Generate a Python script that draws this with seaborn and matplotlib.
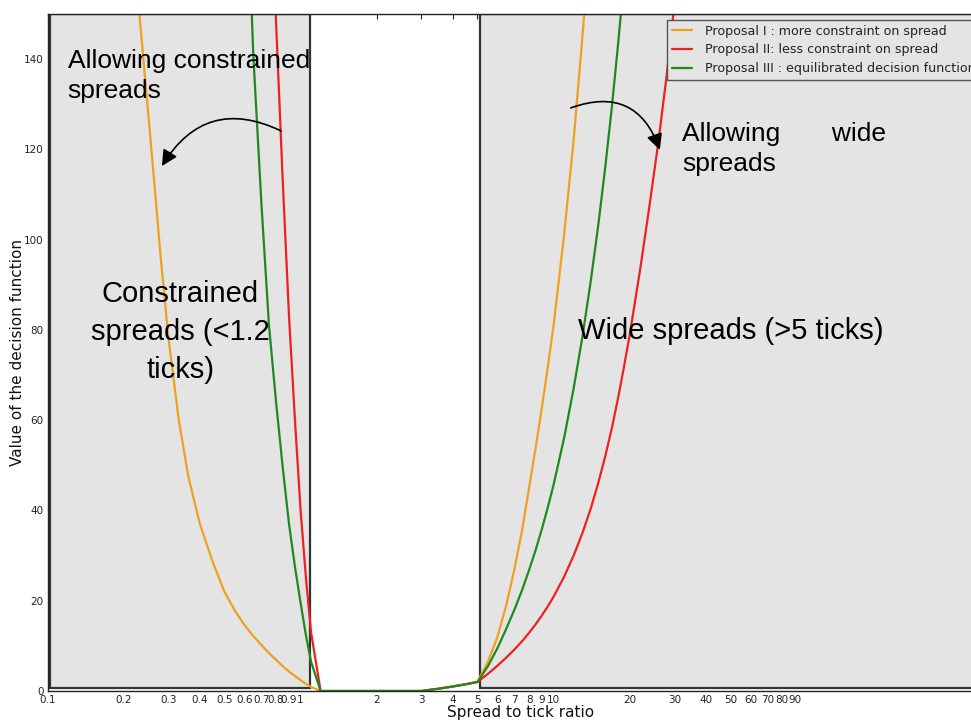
import matplotlib
matplotlib.use("Agg")
import matplotlib.pyplot as plt
from matplotlib.patches import Rectangle
from matplotlib.ticker import FixedLocator, FixedFormatter, NullFormatter, LogLocator
import seaborn as sns
import pandas as pd

# Spread-to-tick ratio grid shared by the three proposals
spread = [0.2, 0.22, 0.24, 0.26, 0.28, 0.3, 0.33, 0.36, 0.4, 0.45, 0.5, 0.55,
          0.6, 0.65, 0.7, 0.75, 0.8, 0.85, 0.9, 0.95, 1.0, 1.05, 1.1, 1.2,
          1.5, 2.0, 2.5, 3.0, 3.5, 4.0, 4.5, 5.0,
          5.5, 6, 6.5, 7, 7.5, 8, 8.5, 9, 9.5, 10,
          11, 12, 13, 14, 15, 16, 17, 18, 19, 20,
          22, 24, 26, 28, 30, 33, 36]

# Decision-function values for each proposal
proposal_1 = [188, 163, 139, 117, 96, 78.5, 60, 47.5, 37, 28.5, 22, 17.8,
              14.6, 12.2, 10.2, 8.4, 6.9, 5.5, 4.3, 3.3, 2.4, 1.6, 0.9, 0,
              0, 0, 0, 0, 0.5, 1.0, 1.5, 2.0,
              6.5, 12, 19, 27, 35.5, 45, 54, 63, 72, 81,
              101, 122, 145, 168, 193, 220, 248, 278, 310, 343,
              415, 495, 580, 675, 775, 940, 1120]
proposal_2 = [3100, 2650, 2250, 1950, 1700, 1500, 1250, 1050, 860, 680, 540, 440,
              360, 290, 232, 186, 148, 113, 83, 60, 40, 25, 13, 0,
              0, 0, 0, 0, 0.5, 1.0, 1.5, 2.0,
              3.8, 5.6, 7.4, 9.2, 11, 12.9, 14.8, 16.8, 18.8, 20.9,
              25.3, 30, 35, 40.3, 46, 52, 58.3, 65, 72, 79,
              93.5, 108, 122, 136.5, 152, 175, 199]
proposal_3 = [2400, 2000, 1700, 1450, 1250, 1100, 900, 760, 600, 450, 340, 262,
              195, 141, 108, 81, 64, 49.5, 37, 27.5, 19.5, 12.3, 6.5, 0,
              0, 0, 0, 0, 0.5, 1.0, 1.5, 2.0,
              5.5, 9.5, 13.8, 18, 22.3, 26.8, 31.3, 36, 40.8, 45.7,
              56, 67, 78.5, 90.5, 103, 116, 129.5, 143.5, 158, 173,
              205, 240, 277, 316, 357, 422, 490]

series_labels = ["Proposal I : more constraint on spread",
                 "Proposal II: less constraint on spread",
                 "Proposal III : equilibrated decision function"]
series_colors = ["#eda21f", "#ee2020", "#1e8a1e"]

# Regions of constrained (< 1.2 ticks) and wide (> 5 ticks) spreads
constrained_region = (0.102, 1.085)
wide_region = (5.1, 2000)
region_y = (0.6, 150)

x_major = [0.1, 0.2, 0.3, 0.4, 0.5, 0.6, 0.7, 0.8, 0.9,
           1, 2, 3, 4, 5, 6, 7, 8, 9,
           10, 20, 30, 40, 50, 60, 70, 80, 90]
x_major_labels = ["%g" % v for v in x_major]
y_ticks = [0, 20, 40, 60, 80, 100, 120, 140]

sns.set_theme(style="white")
plt.rcParams["font.family"] = ["DejaVu Sans"]

df = pd.DataFrame({
    "spread": spread * 3,
    "value": proposal_1 + proposal_2 + proposal_3,
    "proposal": [series_labels[0]] * len(spread) + [series_labels[1]] * len(spread)
                + [series_labels[2]] * len(spread),
})

fig = plt.figure(figsize=(9.71, 7.2), dpi=100)
ax = fig.add_axes([47.6 / 971, 29 / 720, 946.3 / 971, 677 / 720])
ax.set_facecolor("white")
ax.set_xscale("log")
ax.set_xlim(0.1, 550)
ax.set_ylim(0, 150)

for (x0, x1) in (constrained_region, wide_region):
    ax.add_patch(Rectangle((x0, region_y[0]), x1 - x0, region_y[1] - region_y[0],
                           facecolor="#e4e4e4", edgecolor="#333333", lw=1.6, zorder=1))

sns.lineplot(data=df, x="spread", y="value", hue="proposal", hue_order=series_labels,
             palette=series_colors, lw=1.6, ax=ax, legend=False, sort=False,
             estimator=None, zorder=2)

handles = ax.get_lines()[:3]
leg = ax.legend(handles, series_labels, loc="upper right",
                bbox_to_anchor=(1 - 8 / 946.3, 1), fontsize=9.1,
                handlelength=1.6, handletextpad=1.0, borderaxespad=0.45,
                borderpad=0.4, fancybox=False, framealpha=1, facecolor="#e4e4e4",
                edgecolor="#555555", labelspacing=0.45)
leg.get_frame().set_linewidth(1.0)
for t in leg.get_texts():
    t.set_color("#222222")

# Ticks
ax.xaxis.set_major_locator(FixedLocator(x_major))
ax.xaxis.set_major_formatter(FixedFormatter(x_major_labels))
ax.xaxis.set_minor_locator(LogLocator(base=10, subs=range(2, 10)))
ax.xaxis.set_minor_formatter(NullFormatter())
ax.set_yticks(y_ticks)
ax.tick_params(which="both", direction="in", top=True, right=True,
               labelsize=7.5, pad=3, colors="#222222", length=3.5, width=0.8)
ax.tick_params(which="minor", length=2.5)
for s in ax.spines.values():
    s.set_color("#222222")
    s.set_linewidth(1.0)

ax.set_xlabel("Spread to tick ratio", fontsize=11, labelpad=0, color="#111111")
ax.set_ylabel("Value of the decision function", fontsize=11, labelpad=-1, color="#111111")

big = dict(family=["Liberation Sans", "DejaVu Sans"], color="black", zorder=3)
ax.text(0.12, 142.3, "Allowing constrained\nspreads", fontsize=19, ha="left", va="top",
        linespacing=1.33, **big)
ax.text(0.334, 79.5, "Constrained\nspreads (<1.2\nticks)", fontsize=21, ha="center",
        va="center", multialignment="center", linespacing=1.45, **big)
ax.text(32.2, 126.1, "Allowing       wide\nspreads", fontsize=19, ha="left", va="top",
        linespacing=1.3, **big)
ax.text(50.2, 79.8, "Wide spreads (>5 ticks)", fontsize=21, ha="center", va="center", **big)

arrow = dict(arrowstyle="-|>", color="black", lw=1.2, mutation_scale=24, shrinkA=0, shrinkB=0)
ax.annotate("", xy=(0.283, 116.3), xytext=(0.837, 124.1),
            arrowprops=dict(connectionstyle="arc3,rad=0.45", **arrow), zorder=3)
ax.annotate("", xy=(26.3, 119.9), xytext=(11.7, 129.2),
            arrowprops=dict(connectionstyle="arc3,rad=-0.5", **arrow), zorder=3)

fig.savefig("out.png", dpi=100)
